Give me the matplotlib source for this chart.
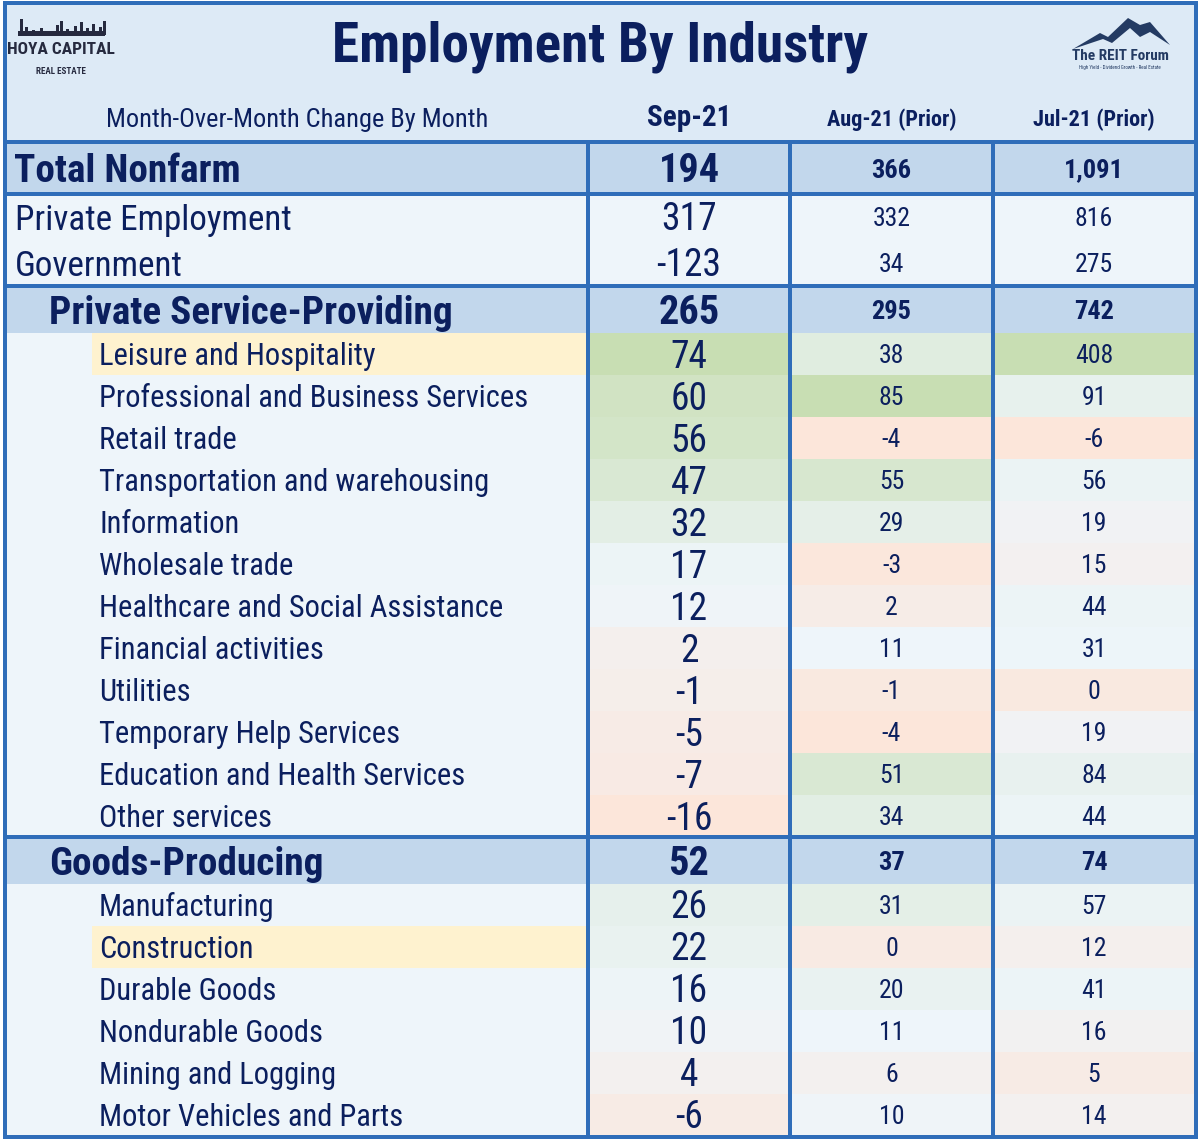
import matplotlib
matplotlib.use("Agg")
import matplotlib.pyplot as plt
from matplotlib import font_manager
from matplotlib.patches import Rectangle, Polygon
from matplotlib.colors import LinearSegmentedColormap, TwoSlopeNorm
import numpy as np

# ---------------- data ----------------
title = "Employment By Industry"
subtitle = "Month-Over-Month Change By Month"
col_headers = ["Sep-21", "Aug-21 (Prior)", "Jul-21 (Prior)"]

labels = [
    "Total Nonfarm", "Private Employment", "Government",
    "Private Service-Providing",
    "Leisure and Hospitality", "Professional and Business Services", "Retail trade",
    "Transportation and warehousing", "Information", "Wholesale trade",
    "Healthcare and Social Assistance", "Financial activities", "Utilities",
    "Temporary Help Services", "Education and Health Services", "Other services",
    "Goods-Producing",
    "Manufacturing", "Construction", "Durable Goods", "Nondurable Goods",
    "Mining and Logging", "Motor Vehicles and Parts",
]
kinds = ["head", "top", "top", "group"] + ["sub"] * 12 + ["group"] + ["sub"] * 6
sep21 = [194, 317, -123, 265, 74, 60, 56, 47, 32, 17, 12, 2, -1, -5, -7, -16,
         52, 26, 22, 16, 10, 4, -6]
aug21 = [366, 332, 34, 295, 38, 85, -4, 55, 29, -3, 2, 11, -1, -4, 51, 34,
         37, 31, 0, 20, 11, 6, 10]
jul21 = [1091, 816, 275, 742, 408, 91, -6, 56, 19, 15, 44, 31, 0, 19, 84, 44,
         74, 57, 12, 41, 16, 5, 14]
highlighted = ["Leisure and Hospitality", "Construction"]

# ---------------- fonts ----------------
names = {f.name for f in font_manager.fontManager.ttflist}
prefs = ["Roboto Condensed", "Liberation Sans Narrow", "Open Sans Condensed",
         "Noto Sans Condensed", "DejaVu Sans Condensed", "Roboto", "DejaVu Sans"]
FONT = next(p for p in prefs if p in names)
plt.rcParams["font.family"] = [FONT, "DejaVu Sans"]

# ---------------- style ----------------
NAVY = "#0B1F5E"
BORDER = "#2F6DB9"
HEAD_BG = "#DDEAF6"
BODY_BG = "#EEF5FA"
TOTAL_BG = "#C2D7EC"
HL = "#FEF2CF"
cmap = LinearSegmentedColormap.from_list("gwr", ["#FCE6DA", "#EEF5FA", "#C8DEB3"])

W, H = 1200, 1142
DPI = 100
PX = 72.0 / DPI  # points per pixel

fig = plt.figure(figsize=(W / DPI, H / DPI), dpi=DPI)
ax = fig.add_axes([0, 0, 1, 1])
ax.set_xlim(0, W)
ax.set_ylim(H, 0)
ax.axis("off")

X0, X1, X2, X3, X4 = 6, 588, 790, 993, 1195
TOP = 142
heights = {"head": 52, "top": 46, "group": 47, "sub": 42}
row_y = []
y = TOP
for k in kinds:
    row_y.append(y)
    y += heights[k]
BOTTOM = y

def txt(x, cy, s, size_pt, bold=False, ha="left", color=NAVY, cap=0.36):
    size_px = size_pt / PX
    ax.text(x, cy + cap * size_px, s, fontsize=size_pt, ha=ha, va="baseline",
            fontweight="bold" if bold else "normal", color=color)

# backgrounds
ax.add_patch(Rectangle((X0, 2), X4 - X0, TOP - 2, facecolor=HEAD_BG, edgecolor="none"))
ax.add_patch(Rectangle((X0, TOP), X4 - X0, BOTTOM - TOP, facecolor=BODY_BG, edgecolor="none"))

# conditional colour scales per column (sub rows only)
columns = [sep21, aug21, jul21]
sub_idx = [i for i, k in enumerate(kinds) if k == "sub"]
col_edges = [(X1, X2), (X2, X3), (X3, X4)]
for ci, vals in enumerate(columns):
    sv = np.array([vals[i] for i in sub_idx], dtype=float)
    norm = TwoSlopeNorm(vmin=sv.min(), vcenter=np.median(sv), vmax=sv.max())
    xa, xb = col_edges[ci]
    for i in sub_idx:
        ax.add_patch(Rectangle((xa, row_y[i]), xb - xa, heights[kinds[i]],
                               facecolor=cmap(norm(vals[i])), edgecolor="none"))

for i, k in enumerate(kinds):
    if k in ("head", "group"):
        ax.add_patch(Rectangle((X0, row_y[i]), X4 - X0, heights[k],
                               facecolor=TOTAL_BG, edgecolor="none"))
    if labels[i] in highlighted:
        ax.add_patch(Rectangle((92, row_y[i]), X1 - 92, heights[k],
                               facecolor=HL, edgecolor="none"))

# text rows
label_x = {"head": 14, "top": 15, "group": 49, "sub": 99}
label_size = {"head": 28.3, "top": 25.3, "group": 28.3, "sub": 22}
label_bold = {"head": True, "top": False, "group": True, "sub": False}
centers = [(X1 + X2) / 2, (X2 + X3) / 2, (X3 + X4) / 2]
for i, k in enumerate(kinds):
    cy = row_y[i] + heights[k] / 2
    txt(label_x[k], cy, labels[i], label_size[k], bold=label_bold[k])
    bold = k in ("head", "group")
    txt(centers[0], cy, f"{sep21[i]:,}", 29 if bold else 27, bold=bold, ha="center")
    txt(centers[1], cy, f"{aug21[i]:,}", 19 if bold else 18.5, bold=bold, ha="center")
    txt(centers[2], cy, f"{jul21[i]:,}", 19 if bold else 18.5, bold=bold, ha="center")

# header texts
txt(600, 42, title, 39.8, bold=True, ha="center")
txt(297, 117, subtitle, 19, ha="center")
txt(centers[0], 116, col_headers[0], 21, bold=True, ha="center")
txt(centers[1], 118, col_headers[1], 16, bold=True, ha="center")
txt(centers[2], 118, col_headers[2], 16, bold=True, ha="center")

# lines
lw = 4 * PX
for yy in [TOP, row_y[1]] + [row_y[i] for i, k in enumerate(kinds) if k == "group"]:
    ax.plot([X0, X4], [yy, yy], color=BORDER, lw=lw, solid_capstyle="butt")
for xx in (X1, X2, X3):
    ax.plot([xx, xx], [TOP, BOTTOM], color=BORDER, lw=lw, solid_capstyle="butt")
ax.add_patch(Rectangle((X0 - 1, 3), X4 - X0 + 2, BOTTOM - 2, facecolor="none",
                       edgecolor=BORDER, lw=lw))

# ---- left logo (Hoya Capital) ----
LOGO = "#262a3f"
ax.add_patch(Rectangle((18, 31), 87, 5, facecolor=LOGO, edgecolor="none"))
for bx, bh in [(20, 16), (25, 8), (32, 5), (40, 7), (47, 4), (56, 10), (60, 14),
               (66, 6), (74, 9), (80, 13), (86, 7), (92, 11), (99, 8), (103, 14)]:
    ax.add_patch(Rectangle((bx, 35 - bh), 2.5, bh, facecolor=LOGO, edgecolor="none"))
ax.text(61, 50, "HOYA CAPITAL", fontsize=12.5, ha="center", va="center", color=LOGO,
        fontweight="bold")
ax.text(61, 71, "REAL ESTATE", fontsize=6.5, ha="center", va="center", color=LOGO,
        fontweight="bold")

# ---- right logo (The REIT Forum) ----
MT = "#243b63"
ax.add_patch(Polygon([(1073, 49), (1100, 33), (1108, 37), (1128, 18), (1140, 25),
                      (1150, 22), (1170, 45), (1150, 32), (1140, 37), (1130, 28),
                      (1112, 43), (1103, 39)], closed=True, facecolor=MT, edgecolor="none"))
ax.text(1120, 56, "The REIT Forum", fontsize=11, fontweight="bold", ha="center",
        va="center", color=MT)
ax.text(1120, 68, "High Yield - Dividend Growth - Real Estate", fontsize=3.6,
        ha="center", va="center", color=MT)

fig.savefig("out.png", dpi=DPI)
